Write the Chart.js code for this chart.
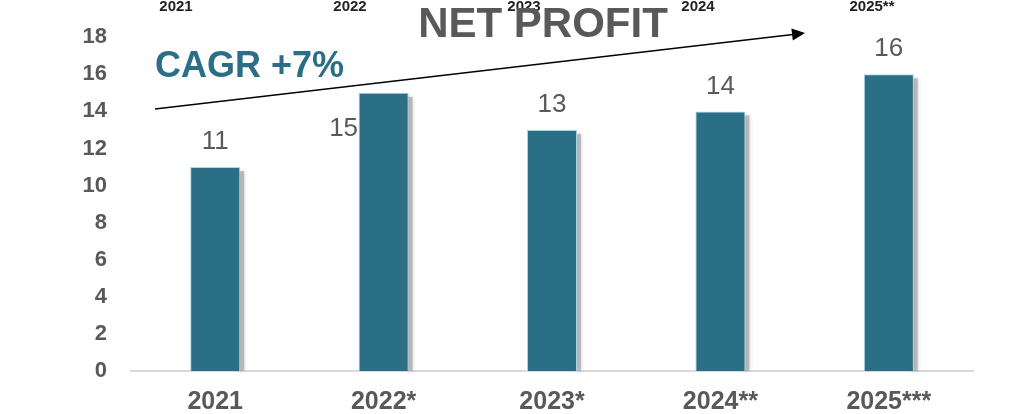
<!DOCTYPE html>
<html>
<head>
<meta charset="utf-8">
<script src="https://cdn.jsdelivr.net/npm/chart.js@4"></script>
<style>
  html, body { margin: 0; padding: 0; background: #fff; }
  #wrap { width: 1023px; height: 414px; position: relative; }
</style>
</head>
<body>
<div id="wrap"><canvas id="chart"></canvas></div>
<script>
const categories = ["2021", "2022*", "2023*", "2024**", "2025***"];
const netProfit = [11, 15, 13, 14, 16];
const topLabels = ["2021", "2022", "2023", "2024", "2025**"];
const yTicks = [0, 2, 4, 6, 8, 10, 12, 14, 16, 18];

const grey = "#595959";
const teal = "#2b6f86";
const font = "'Liberation Sans', Arial, sans-serif";

// soft grey shadow on the right side of each bar
const shadowPlugin = {
    id: "barShadow",
    beforeDatasetsDraw(chart) {
        const c = chart.ctx;
        const meta = chart.getDatasetMeta(0);
        c.save();
        c.fillStyle = "rgba(150,150,150,0.55)";
        c.shadowColor = "rgba(120,120,120,0.6)";
        c.shadowBlur = 4;
        meta.data.forEach(bar => {
            const half = bar.width / 2;
            c.fillRect(bar.x + half - 2, bar.y + 4, 6, bar.base - bar.y - 4);
        });
        c.restore();
    }
};

const decorPlugin = {
    id: "decor",
    afterDraw(chart) {
        const c = chart.ctx;
        const area = chart.chartArea;
        c.save();

        // leftover labels along the top edge
        c.fillStyle = "#222";
        c.font = "bold 15px " + font;
        c.textAlign = "center";
        c.textBaseline = "alphabetic";
        topLabels.forEach((t, i) => {
            c.fillText(t, area.left + 45 + i * 174, 11);
        });

        // title
        c.fillStyle = grey;
        c.font = "bold 42px " + font;
        c.fillText("NET PROFIT", 543, 37);

        // CAGR
        c.fillStyle = teal;
        c.font = "bold 36px " + font;
        c.textAlign = "left";
        c.fillText("CAGR +7%", 155, 77);

        // trend arrow
        const x0 = 155, y0 = 109, x1 = 805, y1 = 33;
        const ang = Math.atan2(y1 - y0, x1 - x0);
        c.strokeStyle = "#000";
        c.lineWidth = 1.5;
        c.beginPath();
        c.moveTo(x0, y0);
        c.lineTo(x1 - 10 * Math.cos(ang), y1 - 10 * Math.sin(ang));
        c.stroke();
        c.fillStyle = "#000";
        c.beginPath();
        c.moveTo(x1, y1);
        c.lineTo(x1 - 13 * Math.cos(ang) + 6 * Math.sin(ang), y1 - 13 * Math.sin(ang) - 6 * Math.cos(ang));
        c.lineTo(x1 - 13 * Math.cos(ang) - 6 * Math.sin(ang), y1 - 13 * Math.sin(ang) + 6 * Math.cos(ang));
        c.closePath();
        c.fill();

        // value labels
        c.fillStyle = grey;
        c.font = "26px " + font;
        c.textAlign = "center";
        c.textBaseline = "middle";
        const meta = chart.getDatasetMeta(0);
        meta.data.forEach((bar, i) => {
            const v = netProfit[i];
            if (i === 1) {
                // this one sits beside the bar in the original
                c.fillText(String(v), bar.x - 40, bar.y + 36);
            } else {
                c.fillText(String(v), bar.x, bar.y - 25);
            }
        });
        c.restore();
    }
};

new Chart(document.getElementById("chart"), {
    type: "bar",
    data: {
        labels: categories,
        datasets: [{
            label: "Net profit",
            data: netProfit,
            backgroundColor: teal,
            borderColor: "#a6d6e6",
            borderWidth: 1,
            barPercentage: 0.297,
            categoryPercentage: 1
        }]
    },
    options: {
        responsive: true,
        maintainAspectRatio: false,
        animation: false,
        layout: { padding: { left: 0, right: 50, top: 35, bottom: 0 } },
        plugins: {
            legend: { display: false },
            tooltip: { enabled: false }
        },
        scales: {
            x: {
                grid: { display: false, drawTicks: false },
                border: { display: true, color: "#d9d9d9", width: 2 },
                ticks: {
                    color: grey,
                    font: { family: font, size: 25, weight: "bold" },
                    padding: 16
                },
                afterFit: s => { s.height = 43; }
            },
            y: {
                min: 0,
                max: 18,
                grid: { display: false, drawTicks: false },
                border: { display: false },
                afterBuildTicks: s => { s.ticks = yTicks.map(v => ({ value: v })); },
                ticks: {
                    color: grey,
                    font: { family: font, size: 22, weight: "bold" },
                    padding: 24
                },
                afterFit: s => { s.width = 131; }
            }
        }
    },
    plugins: [shadowPlugin, decorPlugin]
});
</script>
</body>
</html>
